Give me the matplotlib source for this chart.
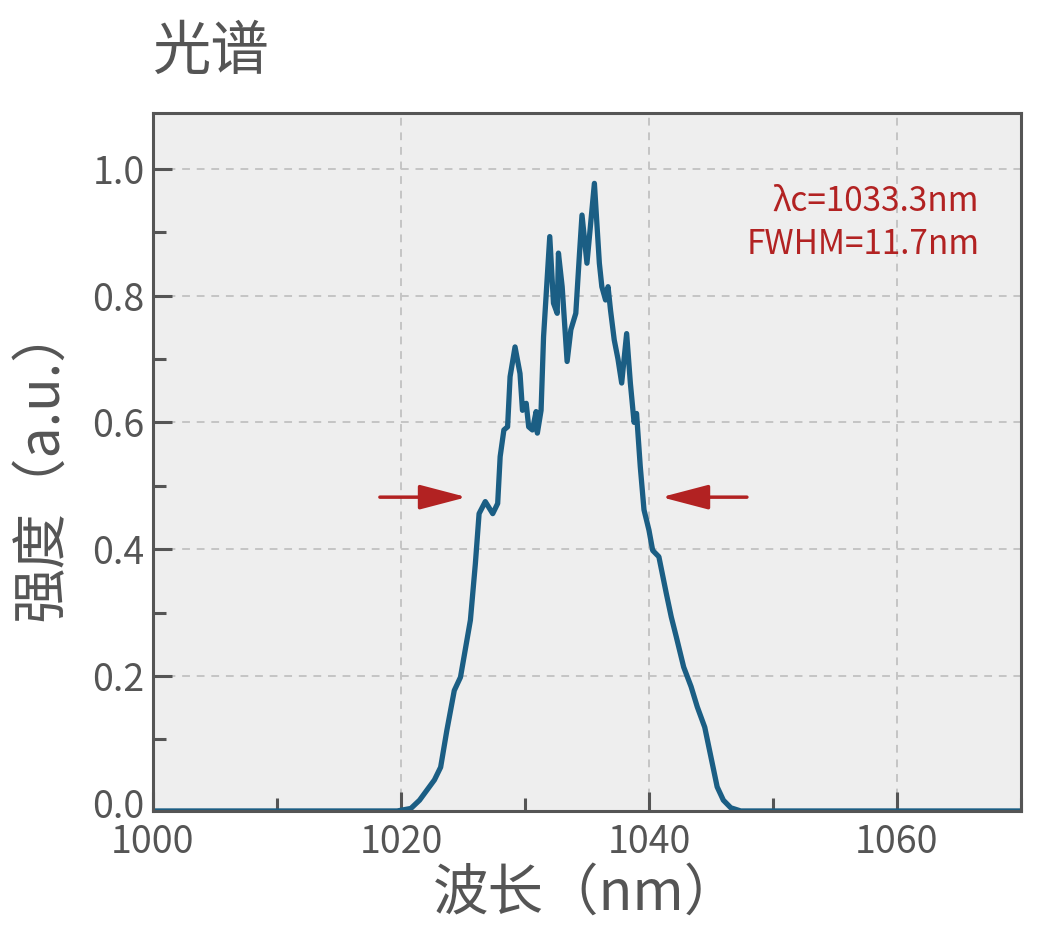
import matplotlib
matplotlib.use("Agg")
import matplotlib.pyplot as plt
from matplotlib.ticker import MultipleLocator

plt.rcParams["font.family"] = ["Noto Sans CJK SC", "DejaVu Sans"]

# spectrum
wavelength = [1000.0, 1019.7, 1020.8, 1021.5, 1022.1, 1022.7, 1023.2, 1023.7,
              1024.3, 1024.8, 1025.6, 1026.0, 1026.3, 1026.8, 1027.4, 1027.8,
              1028.0, 1028.3, 1028.6, 1028.8, 1029.2, 1029.6, 1029.8, 1030.1,
              1030.3, 1030.6, 1030.9, 1031.0, 1031.3, 1031.5, 1032.0, 1032.3,
              1032.6, 1032.7, 1033.0, 1033.4, 1033.7, 1034.1, 1034.4, 1034.6,
              1035.0, 1035.6, 1036.0, 1036.2, 1036.5, 1036.7, 1036.9, 1037.2,
              1037.5, 1037.8, 1038.2, 1038.5, 1038.8, 1039.0, 1039.3, 1039.6,
              1040.0, 1040.3, 1040.4, 1040.8, 1041.4, 1041.8, 1042.2, 1042.8,
              1043.4, 1043.9, 1044.5, 1045.0, 1045.5, 1046.0, 1046.6, 1047.4,
              1070.0]
intensity = [-0.013, -0.013, -0.009, 0.004, 0.020, 0.036, 0.056, 0.114,
             0.177, 0.198, 0.288, 0.377, 0.456, 0.475, 0.456, 0.472,
             0.546, 0.588, 0.593, 0.672, 0.719, 0.677, 0.619, 0.630,
             0.593, 0.588, 0.617, 0.583, 0.619, 0.735, 0.893, 0.788,
             0.772, 0.867, 0.814, 0.696, 0.746, 0.772, 0.867, 0.927,
             0.851, 0.977, 0.851, 0.814, 0.793, 0.814, 0.777, 0.730,
             0.700, 0.662, 0.740, 0.662, 0.600, 0.614, 0.530, 0.462,
             0.430, 0.398, 0.396, 0.388, 0.330, 0.293, 0.262, 0.214,
             0.183, 0.151, 0.119, 0.072, 0.025, 0.004, -0.008, -0.013,
             -0.013]

center_text = "λc=1033.3nm"
fwhm_text = "FWHM=11.7nm"
fwhm_level = 0.482
left_arrow = (1018.3, 1025.3)
right_arrow = (1047.9, 1041.0)

gray = "#555555"
red = "#b22222"

fig = plt.figure(figsize=(10.42, 9.33), dpi=100)
ax = fig.add_axes([0.1468, 0.1308, 0.8330, 0.7481])
ax.set_facecolor("#eeeeee")

ax.plot(wavelength, intensity, color="#1b5e84", lw=3.8, zorder=3,
        solid_joinstyle="round")

ax.set_xlim(1000, 1070)
ax.set_ylim(-0.013, 1.088)
ax.xaxis.set_major_locator(MultipleLocator(20))
ax.xaxis.set_minor_locator(MultipleLocator(10))
ax.yaxis.set_major_locator(MultipleLocator(0.2))
ax.yaxis.set_minor_locator(MultipleLocator(0.1))
ax.yaxis.set_major_formatter(plt.FuncFormatter(lambda v, p: f"{v:.1f}"))

ax.tick_params(which="both", direction="in", color=gray, width=2.2,
               labelcolor=gray, labelsize=27, top=False, right=False)
ax.tick_params(which="major", length=13.5)
ax.tick_params(axis="x", which="major", pad=9)
ax.tick_params(axis="y", which="major", pad=6)
ax.tick_params(which="minor", length=9.5)

for s in ax.spines.values():
    s.set_color(gray)
    s.set_linewidth(2.2)
    s.set_zorder(4)

ax.grid(which="major", color="#c4c4c4", lw=1.4, linestyle=(0, (4, 3.5)))
ax.set_axisbelow(True)

ax.set_xlabel("波长（nm）", fontsize=40, color=gray, labelpad=2)
ax.set_ylabel("强度（a.u.）", fontsize=40, color=gray, labelpad=16)
fig.text(0.147, 0.944, "光谱", fontsize=42, color=gray, va="center", ha="left")

ax.text(0.952, 0.873, center_text, transform=ax.transAxes, ha="right",
        va="center", fontsize=24, color=red)
ax.text(0.952, 0.812, fwhm_text, transform=ax.transAxes, ha="right",
        va="center", fontsize=24, color=red)

arrow = dict(arrowstyle="-|>,head_length=1.45,head_width=0.38",
             mutation_scale=20, color=red, lw=2.5, shrinkA=0, shrinkB=0)
ax.annotate("", xy=(left_arrow[1], fwhm_level), xytext=(left_arrow[0], fwhm_level),
            arrowprops=arrow)
ax.annotate("", xy=(right_arrow[1], fwhm_level), xytext=(right_arrow[0], fwhm_level),
            arrowprops=arrow)

# the 0.0 row has no tick mark or grid line in the reference
fig.canvas.draw()
for t in ax.yaxis.majorTicks:
    if abs(t.get_loc()) < 1e-9:
        t.gridline.set_visible(False)
        t.tick1line.set_visible(False)

fig.savefig("out.png", dpi=100)
